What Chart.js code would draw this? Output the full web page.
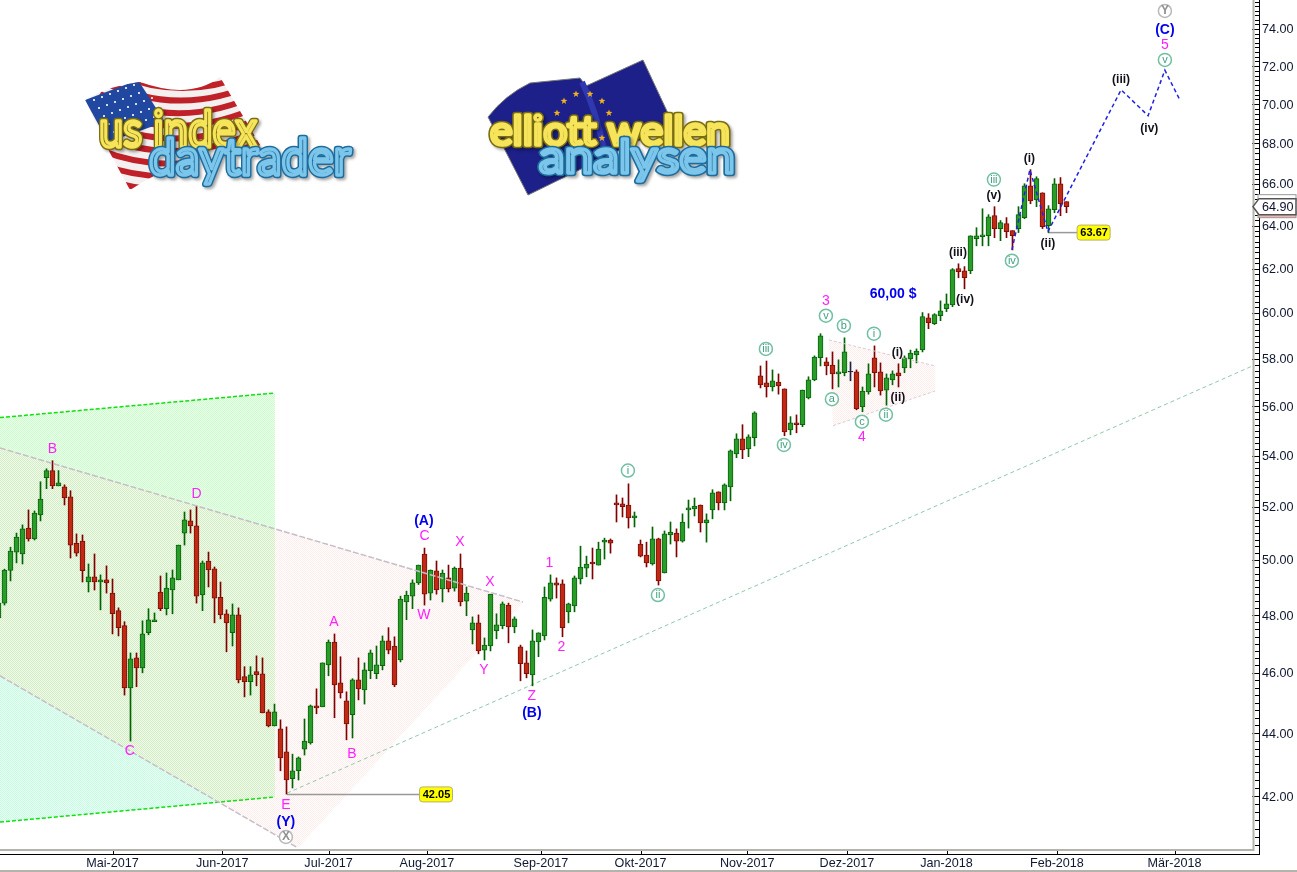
<!DOCTYPE html>
<html>
<head>
<meta charset="utf-8">
<title>Elliott Wellen Analyse</title>
<script src="https://cdn.jsdelivr.net/npm/chart.js@4/dist/chart.umd.min.js"></script>
<style>
html, body { margin: 0; padding: 0; background: #fff; overflow: hidden; }
canvas { display: block; }
</style>
</head>
<body>
<canvas id="chart" width="1297" height="872"></canvas>
<script>
// candles, oldest first. the first one is cut off by the left edge
const candleOpen = [47.91,
48.43,49.61,50.29,50.22,51.19,50.78,51.69,53.13,53.41,52.81,
52.77,52.38,50.62,50.70,49.19,49.38,49.19,49.27,48.79,48.16,
47.63,45.49,46.51,46.17,47.38,47.77,48.83,48.23,48.90,49.27,
51.00,51.46,51.27,48.72,49.96,49.67,48.64,48.05,47.38,48.01,
45.87,45.70,46.04,45.97,44.69,44.23,44.14,43.39,42.54,42.79,
43.48,43.68,44.89,44.86,46.27,47.06,45.66,45.06,44.60,45.76,
45.42,46.07,45.97,46.24,47.10,46.92,46.44,48.47,48.68,49.16,
50.22,48.79,49.60,48.94,49.34,48.97,49.70,48.50,47.48,47.73,
46.78,46.92,47.45,47.63,48.36,47.59,46.89,46.34,45.93,47.06,
47.27,48.57,49.16,49.12,48.12,48.33,49.30,49.70,49.92,49.81,
50.66,50.74,52.15,52.11,52.07,51.57,50.59,50.18,49.85,50.78,
49.52,50.93,51.00,50.70,51.88,51.92,52.07,51.38,51.88,52.58,
52.15,52.77,54.07,54.68,54.27,54.72,57.28,56.98,56.81,57.02,
56.73,55.04,55.33,55.25,56.35,57.11,58.05,57.87,57.74,57.36,
57.41,57.47,57.45,55.98,56.60,58.05,57.45,56.68,57.11,57.41,
57.62,58.00,58.17,58.39,59.79,59.53,59.88,60.19,60.36,62.00,
61.90,61.90,63.38,63.48,63.52,64.47,63.86,64.09,63.76,63.86,
64.38,65.91,65.23,65.57,64.00,64.76,66.01,65.14];
const candleHigh = [48.50,
49.66,50.47,51.00,51.31,51.88,51.84,52.97,53.48,53.80,53.41,
52.85,52.62,50.97,50.93,49.85,50.22,49.45,49.78,49.30,48.26,
47.77,46.68,46.68,47.80,48.23,48.08,49.41,49.52,49.63,50.55,
51.80,51.88,52.03,49.96,50.29,49.74,49.19,48.19,48.40,48.26,
46.21,46.21,46.58,46.51,44.76,44.95,44.43,44.20,43.32,43.23,
44.46,44.92,45.46,46.34,47.13,47.34,46.55,45.36,45.80,46.51,
46.34,46.78,46.92,47.27,47.56,47.24,48.68,48.86,49.27,49.81,
50.44,49.63,49.96,49.63,49.81,49.74,50.22,49.01,47.94,48.01,
47.20,48.75,48.05,48.47,48.43,47.94,46.95,46.75,47.48,47.38,
49.01,49.45,49.34,49.27,48.43,49.41,50.51,50.14,50.44,50.66,
50.81,50.78,52.46,52.34,52.89,51.80,50.74,50.66,51.23,50.81,
51.08,51.42,51.16,51.73,52.26,52.34,52.07,51.73,52.66,52.58,
52.89,54.23,54.88,55.25,54.84,55.78,57.70,57.91,57.53,57.36,
56.73,55.58,55.65,56.68,57.24,58.13,59.09,58.05,58.30,57.96,
58.91,57.87,57.53,56.81,57.79,58.56,57.83,57.36,57.49,57.79,
58.13,58.38,58.43,60.02,59.97,59.97,60.54,60.85,62.00,62.22,
62.09,63.52,63.90,64.80,64.52,64.90,64.24,64.38,63.76,64.90,
66.01,66.70,66.35,65.57,64.95,66.26,66.31,65.14];
const candleLow = [47.85,
48.36,49.23,49.89,49.85,50.70,50.74,51.46,52.70,52.70,52.81,
52.07,50.07,50.14,49.19,48.83,48.90,48.19,48.79,47.34,47.27,
45.25,43.74,45.53,46.00,47.31,47.77,48.16,48.01,48.05,49.27,
50.55,51.00,48.43,48.16,49.01,47.73,47.87,46.72,46.92,45.66,
45.19,45.25,45.56,44.66,44.20,44.23,42.79,42.06,42.25,42.50,
43.29,43.64,44.63,44.86,45.90,44.50,45.15,43.78,43.84,45.09,
44.95,45.80,45.80,46.10,46.65,45.53,46.37,47.84,48.23,49.10,
48.36,48.54,48.75,48.47,48.83,48.86,48.33,47.98,46.99,46.65,
46.44,46.75,47.17,47.52,47.03,47.38,45.73,45.83,45.56,46.55,
47.13,48.50,48.61,47.24,47.73,48.12,49.12,49.38,49.30,49.81,
50.03,50.25,51.42,51.61,51.19,51.23,50.11,49.74,49.81,49.08,
49.52,50.59,50.11,50.66,51.19,51.65,51.04,50.66,51.54,51.88,
51.88,52.23,53.92,53.88,53.96,54.39,56.77,56.39,56.64,56.51,
54.80,54.84,54.92,55.17,56.31,57.07,57.70,57.32,56.73,56.81,
57.28,57.07,55.86,55.78,56.51,56.81,56.47,56.05,56.90,56.81,
57.41,57.62,57.83,58.30,59.31,59.49,59.66,60.06,60.28,61.58,
61.08,61.77,63.05,63.05,63.05,63.43,63.29,63.43,62.86,63.67,
64.33,65.04,64.90,63.86,63.67,64.61,64.47,64.61];
const candleClose = [48.43,
49.63,50.33,50.85,51.16,50.78,51.76,52.30,53.41,52.81,52.93,
52.34,50.55,50.25,49.60,49.38,49.19,49.27,49.16,48.05,47.56,
45.49,46.48,46.17,47.34,47.84,47.84,48.23,48.97,49.34,50.55,
51.50,51.27,48.68,49.89,49.63,48.61,48.01,47.73,48.01,45.76,
45.70,45.93,45.93,44.66,44.23,44.69,43.20,42.50,42.79,43.20,
43.74,44.89,44.82,46.34,47.06,45.59,45.32,44.30,45.76,45.46,
46.10,46.68,46.27,47.10,46.78,45.59,48.57,48.72,49.16,49.81,
48.75,49.63,48.90,49.52,48.94,49.70,48.47,48.79,47.73,46.75,
46.95,48.75,47.66,48.40,47.59,47.87,46.31,45.97,47.10,47.38,
48.64,49.16,49.08,47.56,48.40,49.34,49.74,49.85,49.85,50.40,
50.74,50.62,52.07,52.00,51.57,51.65,50.14,49.89,50.78,49.23,
50.97,51.04,50.70,51.42,51.96,52.03,51.38,51.50,52.54,52.15,
52.85,54.19,54.68,54.23,54.76,55.74,56.90,56.81,57.07,56.85,
54.96,55.33,55.25,56.68,57.11,58.08,59.00,57.70,57.36,57.45,
58.30,57.44,55.90,56.64,57.36,57.41,56.64,57.19,57.36,57.28,
58.05,58.25,58.34,59.84,59.57,59.93,60.10,60.41,61.95,61.86,
61.58,63.52,63.52,63.57,64.42,63.86,64.14,63.71,63.52,64.52,
65.91,65.18,66.26,63.95,64.80,66.01,65.04,64.90];

const monthLabels = ['Mai-2017','Jun-2017','Jul-2017','Aug-2017','Sep-2017','Okt-2017','Nov-2017','Dez-2017','Jan-2018','Feb-2018','Mär-2018'];
const monthBars = [18,36.3,54,70.4,89.4,106,123.8,140.4,157,175.4,195];
const priceLabels = [42,44,46,48,50,52,54,56,58,60,62,64,66,68,70,72,74];

// drawn zones and lines, [bar, price]
const greenZone = [[-0.75,55.54],[45.08,56.56],[45.08,41.97],[-0.75,41.20]];
const mintZone = [[-0.75,45.90],[35.9,41.81],[-0.75,41.20]];
const beigeZone = [[-0.75,54.31],[86.4,48.47],[48.9,40.42],[-0.75,45.90]];
const smallZone = [[137.4,58.82],[155.1,57.70],[155.1,56.64],[138.1,55.21]];
const greenTop = [[-0.75,55.54],[45.08,56.56]];
const greenBottom = [[-0.75,41.20],[45.08,41.97]];
const wedgeTop = [[-0.75,54.31],[86.4,48.47]];
const wedgeBottom = [[-0.75,45.90],[48.9,40.42]];
const smallTop = [[137.4,58.82],[155.1,57.70]];
const smallBottom = [[138.1,55.21],[155.1,56.64]];
const trendLine = [[47.1,42.09],[208,57.70]];
const forecastPath = [[167.9,62.86],[170.9,66.70],[173.9,63.71],[186.1,70.75],[190.6,69.41],[193.4,71.78],[195.9,70.22]];
const lowLine = [[47.1,42.05],[69.3,42.05]];
const recentLine = [[173.9,63.67],[178.9,63.67]];
const levelValues = [42.05,63.67];
const levelBars = [72,181.6];

// wave labels: text, bar, price
const pinkText = ['B','D','C','E','A','B','C','W','X','X','Y','Z','1','2','3','4','5'];
const pinkBars = [8,32,20.9,46.9,54.9,57.9,70,69.9,75.9,80.9,79.9,87.9,90.8,92.8,136.9,142.9,193.4];
const pinkPrices = [54.27,52.50,43.43,41.72,47.77,43.32,50.89,48.01,50.66,49.19,46.10,45.22,49.89,46.89,60.53,54.76,73.13];
const blueText = ['(A)','(B)','(Y)','(C)','60,00 $'];
const blueBars = [69.9,87.9,46.9,193.4,148.1];
const bluePrices = [51.46,44.66,41.21,73.94,60.85];
const blackText = ['(i)','(ii)','(iii)','(iv)','(v)','(i)','(ii)','(iii)','(iv)'];
const blackBars = [148.8,148.9,158.9,160.1,164.9,170.8,173.9,186.1,190.8];
const blackPrices = [58.26,56.35,62.73,60.58,65.42,67.24,63.14,71.29,68.76];
const circleText = ['i','ii','iii','iv','v','b','a','c','i','ii','iii','iv','v'];
const circleBars = [103.9,108.9,126.9,129.9,136.9,139.9,137.9,142.9,144.9,146.9,164.9,167.9,193.4];
const circlePrices = [53.41,48.72,58.43,54.43,59.88,59.44,56.30,55.37,59.09,55.66,66.21,62.36,72.33];
const greyCircleText = ['X','Y'];
const greyCircleBars = [46.9,193.4];
const greyCirclePrices = [40.75,74.99];

const canvas = document.querySelector('#chart');
const ctx = canvas.getContext('2d');

function toPoints(list) {
    return list.map(p => ({ x: p[0], y: p[1] }));
}

function dither(colorA, colorB) {
    const tile = document.createElement('canvas');
    tile.width = 2;
    tile.height = 2;
    const t = tile.getContext('2d');
    t.fillStyle = colorA;
    t.fillRect(0, 0, 2, 2);
    t.clearRect(1, 0, 1, 1);
    t.clearRect(0, 1, 1, 1);
    t.fillStyle = colorB;
    t.fillRect(1, 0, 1, 1);
    t.fillRect(0, 1, 1, 1);
    return ctx.createPattern(tile, 'repeat');
}

function zone(list, color, order) {
    return { type: 'line', data: toPoints(list), fill: 'shape', backgroundColor: color, borderWidth: 0, pointRadius: 0, tension: 0, order: order };
}

function dashed(list, color, width, dash, order) {
    return { type: 'line', data: toPoints(list), fill: false, borderColor: color, borderWidth: width, borderDash: dash, pointRadius: 0, tension: 0, order: order };
}

const isUp = i => candleClose[i] >= candleOpen[i];
const isFlat = i => Math.abs(candleClose[i] - candleOpen[i]) < 0.05;
const barOf = i => i - 1;

const wicks = candleHigh.map((h, i) => ({ x: barOf(i), y: [candleLow[i], h] }));
const bodies = candleOpen.map((o, i) => ({ x: barOf(i), y: [o, candleClose[i]] }));

function drawWaveLabels(chart, texts, bars, prices, font, color) {
    const { x, y } = chart.scales;
    const c = chart.ctx;
    c.font = font;
    c.fillStyle = color;
    c.textAlign = 'center';
    c.textBaseline = 'middle';
    texts.forEach((t, i) => c.fillText(t, x.getPixelForValue(bars[i]), y.getPixelForValue(prices[i])));
}

function drawCircles(chart, texts, bars, prices, stroke, color, font) {
    const { x, y } = chart.scales;
    const c = chart.ctx;
    c.textAlign = 'center';
    c.textBaseline = 'middle';
    texts.forEach((t, i) => {
        const px = x.getPixelForValue(bars[i]);
        const py = y.getPixelForValue(prices[i]);
        c.beginPath();
        c.arc(px, py, 6.5, 0, Math.PI * 2);
        c.fillStyle = '#fff';
        c.fill();
        c.lineWidth = 1.5;
        c.strokeStyle = stroke;
        c.stroke();
        c.font = font;
        c.fillStyle = color;
        c.fillText(t, px, py);
    });
}

function drawLevelTags(chart) {
    const { x, y } = chart.scales;
    const c = chart.ctx;
    levelValues.forEach((v, i) => {
        const px = x.getPixelForValue(levelBars[i]);
        const py = y.getPixelForValue(v);
        c.beginPath();
        c.roundRect(px - 17, py - 7.5, 33, 15, 3);
        c.fillStyle = '#ffff00';
        c.fill();
        c.lineWidth = 1;
        c.strokeStyle = '#b8b070';
        c.stroke();
        c.font = 'bold 11px "Liberation Sans"';
        c.fillStyle = '#000';
        c.textAlign = 'center';
        c.textBaseline = 'middle';
        c.fillText(v.toFixed(2), px, py + 0.5);
    });
}

function drawPriceTag(chart) {
    const { y } = chart.scales;
    const c = chart.ctx;
    const last = candleClose[candleClose.length - 1];
    const py = y.getPixelForValue(last);
    // hidden tags behind the last price
    c.fillStyle = '#fff';
    c.strokeStyle = '#999';
    c.lineWidth = 1;
    c.fillRect(1258, py - 12, 38, 6);
    c.strokeRect(1258, py - 12, 38, 6);
    c.fillStyle = '#f2b4b0';
    c.fillRect(1258, py + 5, 38, 6);
    c.strokeRect(1258, py + 5, 38, 6);
    c.beginPath();
    c.moveTo(1253, py);
    c.lineTo(1259, py - 8);
    c.lineTo(1296, py - 8);
    c.lineTo(1296, py + 8);
    c.lineTo(1259, py + 8);
    c.closePath();
    c.fillStyle = '#fff';
    c.fill();
    c.lineWidth = 1.5;
    c.strokeStyle = '#555';
    c.stroke();
    c.font = '12.6px "Liberation Sans"';
    c.fillStyle = '#101030';
    c.textAlign = 'left';
    c.textBaseline = 'middle';
    c.fillText(last.toFixed(2), 1262, py + 0.5);
}

function drawAxisMarks(chart) {
    const { x, y } = chart.scales;
    const c = chart.ctx;
    c.strokeStyle = '#000';
    c.lineWidth = 1;
    c.beginPath();
    for (let v = 40.25; v < 75.6; v += 0.25) {
        const py = Math.round(y.getPixelForValue(v)) + 0.5;
        const major = Number.isInteger(v) && v % 2 === 0;
        c.moveTo(major ? 1252 : 1255, py);
        c.lineTo(1259, py);
    }
    monthBars.forEach(b => {
        const px = Math.round(x.getPixelForValue(b)) + 0.5;
        c.moveTo(px, 849);
        c.lineTo(px, 854);
    });
    c.stroke();
    // grey inner frame
    c.strokeStyle = '#b4b4ac';
    c.lineWidth = 2;
    c.beginPath();
    c.moveTo(1253.5, 0);
    c.lineTo(1253.5, 850);
    c.lineTo(0, 850);
    c.stroke();
    c.beginPath();
    c.moveTo(0, 871);
    c.lineTo(1297, 871);
    c.stroke();
}

// tube lettering of the two logos, stretched to the measured width
function logoText(c, text, cx, baseline, width, size, dark, light) {
    c.save();
    c.font = size + 'px "Lato"';
    c.textAlign = 'center';
    c.textBaseline = 'alphabetic';
    c.lineJoin = 'round';
    c.lineCap = 'round';
    const sx = width / c.measureText(text).width;
    c.translate(cx, baseline);
    c.scale(sx, 1);
    c.shadowColor = 'rgba(0,0,0,0.35)';
    c.shadowBlur = 3;
    c.shadowOffsetX = 2;
    c.shadowOffsetY = 2;
    c.lineWidth = 6.5;
    c.strokeStyle = dark;
    c.strokeText(text, 0, 0);
    c.shadowColor = 'transparent';
    c.lineWidth = 3.5;
    c.strokeStyle = light;
    c.strokeText(text, 0, 0);
    c.restore();
}

function drawUsLogo(c) {
    c.save();
    c.beginPath();
    c.moveTo(85, 100);
    c.quadraticCurveTo(110, 85, 140, 82);
    c.quadraticCurveTo(190, 100, 220, 77);
    c.lineTo(263, 150);
    c.quadraticCurveTo(190, 150, 130, 190);
    c.lineTo(110, 153);
    c.closePath();
    c.fillStyle = '#f4f0f0';
    c.fill();
    c.clip();
    c.strokeStyle = '#c02028';
    c.lineWidth = 6;
    for (let i = 0; i < 10; i++) {
        c.beginPath();
        c.moveTo(100, 66 + i * 14);
        c.quadraticCurveTo(185, 112 + i * 12, 275, 62 + i * 12);
        c.stroke();
    }
    c.fillStyle = '#2048a0';
    c.beginPath();
    c.moveTo(85, 100);
    c.lineTo(138, 80);
    c.lineTo(165, 122);
    c.lineTo(108, 142);
    c.closePath();
    c.fill();
    c.fillStyle = '#fff';
    for (let r = 0; r < 5; r++) {
        for (let k = 0; k < 7; k++) {
            c.beginPath();
            c.arc(94 + k * 8 + r * 5, 100 - k * 3 + r * 8, 1.1, 0, Math.PI * 2);
            c.fill();
        }
    }
    c.restore();
    logoText(c, 'us index', 178, 147, 158, 50, '#7a6c10', '#f6e45a');
    logoText(c, 'daytrader', 250, 175, 202, 50, '#1e6c9c', '#7cc6ec');
}

function drawStar(c, cx, cy, r) {
    c.beginPath();
    for (let k = 0; k < 10; k++) {
        const a = -Math.PI / 2 + k * Math.PI / 5;
        const d = k % 2 ? r * 0.42 : r;
        c.lineTo(cx + Math.cos(a) * d, cy + Math.sin(a) * d);
    }
    c.closePath();
    c.fill();
}

function drawEuLogo(c) {
    c.save();
    c.fillStyle = '#1c2088';
    c.strokeStyle = '#777';
    c.lineWidth = 1;
    c.beginPath();
    c.moveTo(488, 117);
    c.quadraticCurveTo(505, 95, 530, 83);
    c.lineTo(580, 78);
    c.lineTo(586, 86);
    c.lineTo(643, 60);
    c.lineTo(673, 124);
    c.lineTo(620, 150);
    c.lineTo(528, 195);
    c.closePath();
    c.fill();
    c.stroke();
    c.strokeStyle = '#3038b0';
    c.lineWidth = 6;
    c.beginPath();
    c.moveTo(582, 82);
    c.quadraticCurveTo(596, 110, 604, 150);
    c.stroke();
    c.fillStyle = '#f0b020';
    const stars = [[564,101],[576,94],[590,94],[602,101],[609,113],[557,113],[608,127],[602,138]];
    stars.forEach(s => drawStar(c, s[0], s[1], 3.6));
    c.restore();
    logoText(c, 'elliott wellen', 610, 145, 240, 40, '#7a6c10', '#f6e45a');
    logoText(c, 'analysen', 637, 173, 196, 46, '#1e6c9c', '#7cc6ec');
}

const overlay = {
    id: 'overlay',
    beforeDatasetsDraw(chart) {
        drawUsLogo(chart.ctx);
        drawEuLogo(chart.ctx);
    },
    afterDraw(chart) {
        const pink = '#ff20ff';
        drawAxisMarks(chart);
        drawWaveLabels(chart, pinkText, pinkBars, pinkPrices, '14px "Liberation Sans"', pink);
        drawWaveLabels(chart, blueText, blueBars, bluePrices, 'bold 14px "Liberation Sans"', '#0000ee');
        drawWaveLabels(chart, blackText, blackBars, blackPrices, 'bold 12px "Liberation Sans"', '#101018');
        drawCircles(chart, circleText, circleBars, circlePrices, '#70c0a0', '#40a080', '11px "Liberation Sans"');
        drawCircles(chart, greyCircleText, greyCircleBars, greyCirclePrices, '#b8b8b8', '#909090', 'bold 12px "Liberation Sans"');
        drawLevelTags(chart);
        drawPriceTag(chart);
    }
};

new Chart(ctx, {
    type: 'bar',
    data: {
        datasets: [
            zone(greenZone, dither('#ccfbcc', '#ecffec'), 22),
            zone(mintZone, dither('#c8fae4', '#e8fff4'), 21),
            zone(beigeZone, dither('rgba(250,185,175,0.26)', 'rgba(255,255,255,0)'), 20),
            zone(smallZone, dither('rgba(250,185,175,0.26)', 'rgba(255,255,255,0)'), 20),
            dashed(greenTop, '#10e010', 1.5, [4, 2], 15),
            dashed(greenBottom, '#10e010', 1.5, [4, 2], 15),
            dashed(trendLine, '#90c8a8', 1, [4, 3], 15),
            dashed(lowLine, '#999', 1.5, [], 15),
            dashed(recentLine, '#999', 1.5, [], 15),
            {
                label: 'wick',
                data: wicks,
                grouped: false,
                barThickness: 1,
                backgroundColor: wicks.map((w, i) => isFlat(i) ? '#202040' : isUp(i) ? '#006400' : '#800000'),
                order: 6
            },
            {
                label: 'body',
                data: bodies,
                grouped: false,
                barThickness: 5,
                borderWidth: 1,
                borderSkipped: false,
                backgroundColor: bodies.map((b, i) => isFlat(i) ? '#202040' : isUp(i) ? '#2a9c2a' : '#c02a14'),
                borderColor: bodies.map((b, i) => isFlat(i) ? '#202040' : isUp(i) ? '#0a640a' : '#7a1008'),
                order: 5
            },
            dashed(wedgeTop, '#c8bcc8', 1.5, [6, 2], 3),
            dashed(wedgeBottom, '#c8bcc8', 1.5, [6, 2], 3),
            dashed(smallTop, '#d8ccd0', 1, [3, 2], 3),
            dashed(smallBottom, '#d8ccd0', 1, [3, 2], 3),
            dashed(forecastPath, '#2020e0', 1.5, [4, 3], 2)
        ]
    },
    plugins: [overlay],
    options: {
        responsive: false,
        animation: false,
        layout: { padding: 0 },
        plugins: {
            legend: { display: false },
            tooltip: { enabled: false }
        },
        scales: {
            x: {
                type: 'linear',
                offset: false,
                min: -0.75,
                max: 209.0833,
                grid: { display: false, drawTicks: false },
                border: { display: true, color: '#000', width: 1 },
                afterBuildTicks: s => { s.ticks = monthBars.map(v => ({ value: v })); },
                afterFit: s => {
                    s.height = 18;
                    s.paddingLeft = 0;
                    s.paddingRight = 0;
                },
                ticks: {
                    autoSkip: false,
                    maxRotation: 0,
                    padding: 2,
                    color: '#101830',
                    font: { family: '"Liberation Sans"', size: 12.6 },
                    callback: (v, i) => monthLabels[i]
                }
            },
            y: {
                type: 'logarithmic',
                position: 'right',
                bounds: 'data',
                min: 40.24,
                max: 75.6,
                grid: { display: false, drawTicks: false },
                border: { display: true, color: '#000', width: 1 },
                afterBuildTicks: s => { s.ticks = priceLabels.map(v => ({ value: v })); },
                afterFit: s => {
                    s.width = 38;
                    s.paddingTop = 0;
                    s.paddingBottom = 0;
                },
                ticks: {
                    autoSkip: false,
                    padding: 3,
                    labelOffset: 1,
                    color: '#101830',
                    font: { family: '"Liberation Sans"', size: 12.6 },
                    callback: v => v.toFixed(2)
                }
            }
        }
    }
});
</script>
</body>
</html>
